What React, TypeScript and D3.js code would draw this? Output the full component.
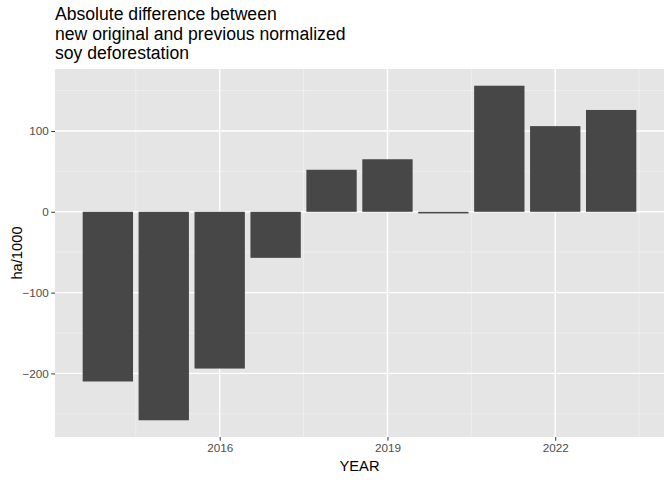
import { useEffect, useRef } from 'react'
import * as d3 from 'd3'

const years = [2014, 2015, 2016, 2017, 2018, 2019, 2020, 2021, 2022, 2023]
const diffs = [-210, -258, -194, -57, 52, 65, -2, 156, 106, 126]
const xTicks = [2016, 2019, 2022]
const xMinor = [2014.5, 2017.5, 2020.5, 2023.5]
const yTicks = [-200, -100, 0, 100]
const yMinor = [-250, -150, -50, 50, 150]
const titleLines = [
  'Absolute difference between',
  'new original and previous normalized',
  'soy deforestation',
]

export default function App() {
  const ref = useRef<SVGSVGElement>(null)

  useEffect(() => {
    if (!ref.current) return
    const svg = d3.select(ref.current)
    svg.selectAll('*').remove()

    const W = 672
    const H = 480
    const margin = { top: 69, right: 8, bottom: 43, left: 55 }
    const font = '"Liberation Sans", Arial, Helvetica, sans-serif'

    svg.append('rect').attr('width', W).attr('height', H).attr('fill', '#fff')

    // continuous x like ggplot, bars 0.9 wide, 5% expansion
    const lo = d3.min(years)! - 0.45
    const hi = d3.max(years)! + 0.45
    const xPad = (hi - lo) * 0.05
    const x = d3
      .scaleLinear()
      .domain([lo - xPad, hi + xPad])
      .range([margin.left, W - margin.right])

    const yMin = Math.min(0, d3.min(diffs)!)
    const yMax = Math.max(0, d3.max(diffs)!)
    const yPad = (yMax - yMin) * 0.05
    const y = d3
      .scaleLinear()
      .domain([yMin - yPad, yMax + yPad])
      .range([H - margin.bottom, margin.top])

    const g = svg.append('g')

    // panel
    g.append('rect')
      .attr('x', margin.left)
      .attr('y', margin.top)
      .attr('width', W - margin.left - margin.right)
      .attr('height', H - margin.top - margin.bottom)
      .attr('fill', '#e5e5e5')

    // minor grid
    g.selectAll('.yminor')
      .data(yMinor)
      .join('line')
      .attr('x1', margin.left)
      .attr('x2', W - margin.right)
      .attr('y1', d => y(d))
      .attr('y2', d => y(d))
      .attr('stroke', '#f2f2f2')
      .attr('stroke-width', 0.7)
    g.selectAll('.xminor')
      .data(xMinor)
      .join('line')
      .attr('x1', d => x(d))
      .attr('x2', d => x(d))
      .attr('y1', margin.top)
      .attr('y2', H - margin.bottom)
      .attr('stroke', '#f2f2f2')
      .attr('stroke-width', 0.7)

    // major grid
    g.selectAll('.ymajor')
      .data(yTicks)
      .join('line')
      .attr('x1', margin.left)
      .attr('x2', W - margin.right)
      .attr('y1', d => y(d))
      .attr('y2', d => y(d))
      .attr('stroke', '#fff')
      .attr('stroke-width', 1.4)
    g.selectAll('.xmajor')
      .data(xTicks)
      .join('line')
      .attr('x1', d => x(d))
      .attr('x2', d => x(d))
      .attr('y1', margin.top)
      .attr('y2', H - margin.bottom)
      .attr('stroke', '#fff')
      .attr('stroke-width', 1.4)

    // bars
    g.selectAll('.bar')
      .data(years)
      .join('rect')
      .attr('x', d => x(d - 0.45))
      .attr('width', x(0.9) - x(0))
      .attr('y', (_, i) => y(Math.max(0, diffs[i])))
      .attr('height', (_, i) => Math.abs(y(diffs[i]) - y(0)))
      .attr('fill', '#474747')

    // y axis
    const yAxis = svg
      .append('g')
      .attr('transform', `translate(${margin.left},0)`)
      .call(d3.axisLeft(y).tickValues(yTicks).tickSize(3.7).tickPadding(2.5).tickFormat(d3.format('d')))
    yAxis.select('.domain').remove()
    yAxis.selectAll('.tick line').attr('stroke', '#333').attr('stroke-width', 1)
    yAxis
      .selectAll('.tick text')
      .attr('fill', '#4d4d4d')
      .style('font-family', font)
      .style('font-size', '11.7px')

    // x axis
    const xAxis = svg
      .append('g')
      .attr('transform', `translate(0,${H - margin.bottom})`)
      .call(d3.axisBottom(x).tickValues(xTicks).tickSize(3.7).tickPadding(2.5).tickFormat(d3.format('d')))
    xAxis.select('.domain').remove()
    xAxis.selectAll('.tick line').attr('stroke', '#333').attr('stroke-width', 1)
    xAxis
      .selectAll('.tick text')
      .attr('fill', '#4d4d4d')
      .style('font-family', font)
      .style('font-size', '11.7px')

    // axis titles
    svg
      .append('text')
      .attr('x', (margin.left + W - margin.right) / 2)
      .attr('y', 471)
      .attr('text-anchor', 'middle')
      .style('font-family', font)
      .style('font-size', '14.7px')
      .text('YEAR')

    svg
      .append('text')
      .attr('transform', `translate(22,${(margin.top + H - margin.bottom) / 2}) rotate(-90)`)
      .attr('text-anchor', 'middle')
      .style('font-family', font)
      .style('font-size', '14.7px')
      .text('ha/1000')

    // title
    titleLines.forEach((line, i) => {
      svg
        .append('text')
        .attr('x', margin.left)
        .attr('y', 20 + i * 19.5)
        .style('font-family', font)
        .style('font-size', '17.6px')
        .text(line)
    })
  }, [])

  return (
    <svg
      ref={ref}
      width={672}
      height={480}
      style={{ position: 'absolute', left: 0, top: 0, display: 'block' }}
    />
  )
}
